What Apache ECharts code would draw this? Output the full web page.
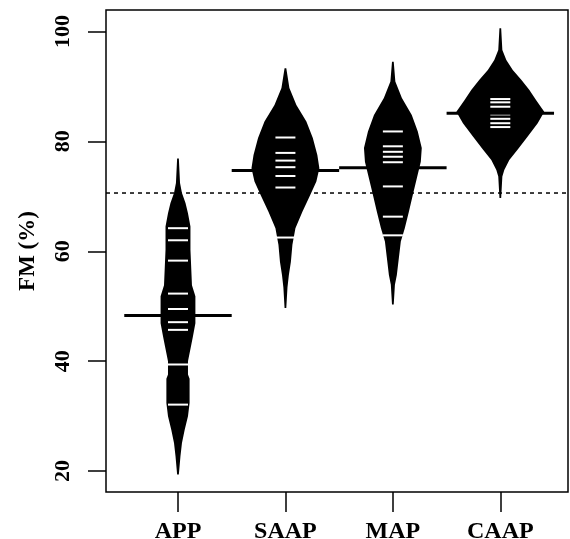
<!DOCTYPE html>
<html>
<head>
<meta charset="utf-8">
<script src="https://cdn.jsdelivr.net/npm/echarts@6/dist/echarts.min.js"></script>
<style>
  html, body { margin: 0; padding: 0; background: #fff; }
  #beanChart { width: 570px; height: 539px; }
</style>
</head>
<body>
<div id="beanChart"></div>
<script>
// groups on the x axis
const groups = ['APP', 'SAAP', 'MAP', 'CAAP'];
const yTicks = [20, 40, 60, 80, 100];

// group means (black bars) and overall mean (dotted line)
const groupMeans = [48.3, 74.7, 75.2, 85.1];
const overallMean = 70.6;

// single observations (white bean lines)
const obsApp = [64.2, 62.0, 58.3, 52.3, 49.5, 47.1, 45.7, 39.4, 32.1];
const obsSaap = [80.7, 77.9, 76.5, 75.3, 73.7, 71.6, 62.5];
const obsMap = [81.8, 79.1, 78.1, 77.2, 76.2, 71.8, 66.3, 62.9];
const obsCaap = [87.7, 87.1, 86.3, 84.9, 84.1, 83.3, 82.6];

// density outline: [FM value, half width in group units]
const densApp = [
  [19.4, 0.008], [22.7, 0.023], [25.1, 0.037], [27.5, 0.062], [30.0, 0.093],
  [32.4, 0.108], [36.8, 0.108], [37.6, 0.093], [40.0, 0.093], [42.7, 0.121],
  [44.5, 0.139], [46.9, 0.162], [51.8, 0.162], [53.8, 0.130], [60.3, 0.116],
  [64.5, 0.116], [66.9, 0.093], [68.8, 0.070], [70.6, 0.037], [72.4, 0.019],
  [76.9, 0.008]
];
const densSaap = [
  [49.7, 0.008], [53.4, 0.019], [55.7, 0.032], [58.1, 0.051], [61.2, 0.065],
  [64.2, 0.093], [67.2, 0.158], [70.3, 0.232], [72.7, 0.288], [75.1, 0.316],
  [77.5, 0.297], [80.6, 0.255], [83.6, 0.195], [86.6, 0.102], [89.7, 0.037],
  [93.3, 0.008]
];
const densMap = [
  [50.3, 0.008], [53.9, 0.019], [55.7, 0.037], [58.8, 0.056], [61.8, 0.074],
  [64.2, 0.111], [67.2, 0.149], [70.3, 0.186], [73.3, 0.223], [76.3, 0.260],
  [78.8, 0.269], [81.8, 0.232], [84.8, 0.176], [87.9, 0.084], [90.9, 0.023],
  [94.5, 0.008]
];
const densCaap = [
  [69.7, 0.008], [73.6, 0.019], [74.8, 0.037], [76.6, 0.084], [78.5, 0.162],
  [80.9, 0.255], [83.3, 0.348], [85.4, 0.409], [87.5, 0.334], [89.4, 0.269],
  [91.2, 0.195], [93.0, 0.116], [94.8, 0.056], [96.6, 0.019], [100.6, 0.008]
];

const densities = [densApp, densSaap, densMap, densCaap];
const observations = [obsApp, obsSaap, obsMap, obsCaap];

const beanLineHalf = 0.093;
const meanLineHalf = 0.5;
const serif = '"Liberation Serif", "DejaVu Serif", serif';

const obsData = [];
observations.forEach((list, i) => {
  list.forEach((v) => obsData.push([i + 1, v]));
});

const myChart = echarts.init(document.getElementById('beanChart'));
const option = {
  animation: false,
  grid: {
    left: 106,
    top: 10,
    right: 2,
    bottom: 47,
    outerBoundsMode: 'none',
    show: true,
    borderColor: '#000',
    borderWidth: 1.5,
  },
  xAxis: {
    type: 'value',
    min: 0.33,
    max: 4.63,
    axisLine: { show: false },
    splitLine: { show: false },
    axisTick: {
      show: true,
      customValues: [1, 2, 3, 4],
      length: 20,
      lineStyle: { color: '#000', width: 1.5 },
    },
    axisLabel: {
      customValues: [1, 2, 3, 4],
      formatter(v) {
        return groups[Math.round(v) - 1];
      },
      margin: 28,
      color: '#000',
      fontFamily: serif,
      fontWeight: 'bold',
      fontSize: 24,
    },
  },
  yAxis: {
    type: 'value',
    min: 16.2,
    max: 103.9,
    name: 'FM (%)',
    nameLocation: 'middle',
    nameRotate: 90,
    nameGap: 66,
    nameTextStyle: {
      color: '#000',
      fontFamily: serif,
      fontWeight: 'bold',
      fontSize: 23,
    },
    axisLine: { show: false },
    splitLine: { show: false },
    axisTick: {
      show: true,
      customValues: yTicks,
      length: 18,
      lineStyle: { color: '#000', width: 1.5 },
    },
    axisLabel: {
      customValues: yTicks,
      rotate: 90,
      margin: 32,
      color: '#000',
      fontFamily: serif,
      fontWeight: 'bold',
      fontSize: 22,
    },
  },
  series: [
    {
      // overall mean, dotted
      type: 'custom',
      z: 1,
      data: [[overallMean]],
      renderItem(params, api) {
        const cs = params.coordSys;
        const y = api.coord([1, api.value(0)])[1];
        return {
          type: 'line',
          shape: { x1: cs.x, y1: y, x2: cs.x + cs.width, y2: y },
          style: { stroke: '#000', lineWidth: 1.5, lineDash: [4, 4] },
        };
      },
    },
    {
      // bean outlines
      type: 'custom',
      z: 2,
      data: groups.map((g, i) => [i + 1]),
      renderItem(params, api) {
        const i = params.dataIndex;
        const cx = api.value(0);
        const prof = densities[i];
        const left = prof.map((p) => api.coord([cx - p[1], p[0]]));
        const right = prof.map((p) => api.coord([cx + p[1], p[0]])).reverse();
        return {
          type: 'polygon',
          shape: { points: left.concat(right) },
          style: { fill: '#000' },
        };
      },
    },
    {
      // bean lines
      type: 'custom',
      z: 3,
      data: obsData,
      renderItem(params, api) {
        const x = api.value(0);
        const v = api.value(1);
        const p1 = api.coord([x - beanLineHalf, v]);
        const p2 = api.coord([x + beanLineHalf, v]);
        return {
          type: 'line',
          shape: { x1: p1[0], y1: p1[1], x2: p2[0], y2: p2[1] },
          style: { stroke: '#fff', lineWidth: 2 },
        };
      },
    },
    {
      // group means
      type: 'custom',
      z: 4,
      data: groupMeans.map((m, i) => [i + 1, m]),
      renderItem(params, api) {
        const x = api.value(0);
        const v = api.value(1);
        const p1 = api.coord([x - meanLineHalf, v]);
        const p2 = api.coord([x + meanLineHalf, v]);
        return {
          type: 'line',
          shape: { x1: p1[0], y1: p1[1], x2: p2[0], y2: p2[1] },
          style: { stroke: '#000', lineWidth: 3 },
        };
      },
    },
  ],
};
myChart.setOption(option);
</script>
</body>
</html>
